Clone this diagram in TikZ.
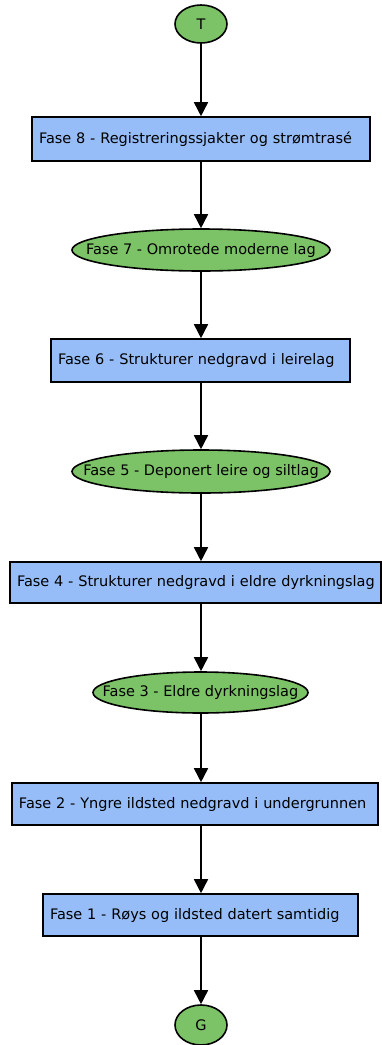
\documentclass[tikz,border=0pt]{standalone}
\usepackage{fontspec}
\setmainfont{DejaVu Sans}
\usetikzlibrary{shapes.geometric,arrows.meta}
\definecolor{boxblue}{RGB}{150,189,247}
\definecolor{ovalgreen}{RGB}{124,194,103}
\begin{document}
\begin{tikzpicture}[x=1pt,y=-1pt,
  every node/.style={font=\fontsize{14.5}{16}\selectfont},
  phasebox/.style={draw=black,line width=1.6pt,fill=boxblue,rectangle,
    inner xsep=7pt,inner ysep=0pt,align=left,anchor=center},
  phaseoval/.style={draw=black,line width=1.6pt,fill=ovalgreen,ellipse,
    inner sep=0pt},
  flow/.style={line width=1.6pt,-{Triangle[length=14pt,width=14pt]}}]
\useasboundingbox (0,0) rectangle (382,1045);

\newcommand{\boxnode}[6]{%
  \node[phasebox,text width={#4-14pt},minimum height=#5] (#1) at (#2,#3) {\mbox{#6}};}
\newcommand{\ovalnode}[6]{%
  \node[phaseoval,minimum width=#4,minimum height=#5] (#1) at (#2,#3) {\makebox[0pt]{#6}};}

\ovalnode{t}{201}{24}{52pt}{38pt}{T}
\boxnode{f8}{201}{139}{338pt}{44pt}{Fase 8 - Registreringssjakter og strømtrasé}
\ovalnode{f7}{201}{250}{258pt}{42pt}{Fase 7 - Omrotede moderne lag}
\boxnode{f6}{200.5}{360.5}{299pt}{43pt}{Fase 6 - Strukturer nedgravd i leirelag}
\ovalnode{f5}{201}{471.5}{258pt}{43pt}{Fase 5 - Deponert leire og siltlag}
\boxnode{f4}{195.5}{582.5}{371pt}{41pt}{Fase 4 - Strukturer nedgravd i eldre dyrkningslag}
\ovalnode{f3}{200.5}{692.5}{215pt}{41pt}{Fase 3 - Eldre dyrkningslag}
\boxnode{f2}{195}{804}{366pt}{42pt}{Fase 2 - Yngre ildsted nedgravd i undergrunnen}
\boxnode{f1}{200.5}{915}{315pt}{42pt}{Fase 1 - Røys og ildsted datert samtidig}
\ovalnode{g}{201}{1025}{52pt}{40pt}{G}

\draw[flow] (t.south) -- (t.south |- f8.north);
\draw[flow] (t.south |- f8.south) -- (t.south |- f7.north);
\draw[flow] (f7.south) -- (f7.south |- f6.north);
\draw[flow] (f7.south |- f6.south) -- (f5.north);
\draw[flow] (f5.south) -- (f5.south |- f4.north);
\draw[flow] (f5.south |- f4.south) -- (f5.south |- f3.north);
\draw[flow] (f5.south |- f3.south) -- (f5.south |- f2.north);
\draw[flow] (f5.south |- f2.south) -- (f5.south |- f1.north);
\draw[flow] (f5.south |- f1.south) -- (g.north);
\end{tikzpicture}
\end{document}
